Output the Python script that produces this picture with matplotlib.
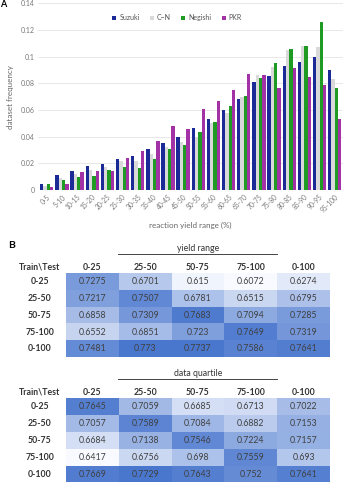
import numpy as np
import matplotlib
matplotlib.use("Agg")
import matplotlib.pyplot as plt
from matplotlib.colors import LinearSegmentedColormap

plt.rcParams["font.family"] = ["Lato", "DejaVu Sans"]

# ---- panel A data: dataset frequency per yield bin ----
yield_bins = ["0-5", "5-10", "10-15", "15-20", "20-25", "25-30", "30-35", "35-40",
              "40-45", "45-50", "50-55", "55-60", "60-65", "65-70", "70-75",
              "75-80", "80-85", "85-90", "90-95", "95-100"]
suzuki  = [0.0044, 0.0109, 0.0145, 0.0179, 0.0195, 0.0230, 0.0257, 0.0305, 0.0350, 0.0400,
           0.0465, 0.0533, 0.0600, 0.0685, 0.0808, 0.0853, 0.0930, 0.0963, 0.0995, 0.0900]
c_n     = [0.0030, 0.0090, 0.0120, 0.0150, 0.0170, 0.0220, 0.0220, 0.0270, 0.0320, 0.0360,
           0.0395, 0.0500, 0.0580, 0.0700, 0.0860, 0.0925, 0.1050, 0.1080, 0.1075, 0.0833]
negishi = [0.0044, 0.0074, 0.0099, 0.0102, 0.0153, 0.0175, 0.0168, 0.0235, 0.0310, 0.0338,
           0.0433, 0.0508, 0.0628, 0.0705, 0.0843, 0.0955, 0.1058, 0.1080, 0.1263, 0.0765]
pkr     = [0.0024, 0.0046, 0.0134, 0.0143, 0.0143, 0.0243, 0.0293, 0.0365, 0.0480, 0.0458,
           0.0610, 0.0666, 0.0748, 0.0868, 0.0865, 0.0763, 0.0918, 0.0850, 0.0788, 0.0530]
series_names = ["Suzuki", "C\u2212N", "Negishi", "PKR"]
y_ticks = [0, 0.02, 0.04, 0.06, 0.08, 0.1, 0.12, 0.14]

# ---- panel B data: train/test accuracy tables ----
ranges = ["0-25", "25-50", "50-75", "75-100", "0-100"]
yield_range_tbl = [
    [0.7275, 0.6701, 0.615, 0.6072, 0.6274],
    [0.7217, 0.7507, 0.6781, 0.6515, 0.6795],
    [0.6858, 0.7309, 0.7683, 0.7094, 0.7285],
    [0.6552, 0.6851, 0.723, 0.7649, 0.7319],
    [0.7481, 0.773, 0.7737, 0.7586, 0.7641],
]
quartile_tbl = [
    [0.7645, 0.7059, 0.6685, 0.6713, 0.7022],
    [0.7057, 0.7589, 0.7084, 0.6882, 0.7153],
    [0.6684, 0.7138, 0.7546, 0.7224, 0.7157],
    [0.6417, 0.6756, 0.698, 0.7559, 0.693],
    [0.7669, 0.7729, 0.7643, 0.752, 0.7641],
]

COLORS = ["#1b2a96", "#d9d9d9", "#1f9b24", "#a232a6"]
W, H = 345, 482

fig = plt.figure(figsize=(W / 100, H / 100), dpi=100)


def px_axes(x0, y0, x1, y1):
    return fig.add_axes([x0 / W, 1 - y1 / H, (x1 - x0) / W, (y1 - y0) / H])


# ---------------- panel A ----------------
ax = px_axes(38, 3.3, 343, 190)
x = np.arange(len(yield_bins))
bw = 0.22
offsets = [-0.33, -0.11, 0.11, 0.33]
for vals, name, col, off in zip([suzuki, c_n, negishi, pkr], series_names, COLORS, offsets):
    ax.bar(x + off, vals, width=bw, color=col, label=name, zorder=2)

ax.set_xlim(-0.58, 19.55)
ax.set_ylim(0, 0.14)
ax.set_yticks(y_ticks)
ax.set_yticklabels([f"{t:g}" for t in y_ticks], fontsize=5, color="#777777")
ax.set_xticks(x)
ax.set_xticklabels(yield_bins, rotation=45, ha="right", rotation_mode="anchor",
                   fontsize=4.8, color="#777777")
ax.tick_params(length=0, pad=2.5)
ax.grid(axis="y", color="#e4e4e4", linewidth=0.6, zorder=0)
for s in ax.spines.values():
    s.set_visible(False)
ax.set_xlabel("reaction yield range (%)", fontsize=5.8, color="#666666", labelpad=6)
ax.set_ylabel("dataset frequency", fontsize=5.8, color="#666666", labelpad=5)
ax.legend(loc="upper center", bbox_to_anchor=(0.456, 0.975), ncol=4, frameon=False,
          fontsize=5, handlelength=0.6, handleheight=0.6, handletextpad=0.4,
          columnspacing=1.5, labelcolor="#555555")

fig.text(0.0, 0.999, "A", fontsize=6.5, fontweight="bold", va="top", ha="left")

# ---------------- panel B ----------------
cmap = LinearSegmentedColormap.from_list("xl", ["#f8faff", "#4a77ce"])


def draw_table(y_top, y_bot, data, title):
    tax = px_axes(66, y_top, 330, y_bot)
    arr = np.array(data)
    tax.imshow(arr, cmap=cmap, aspect="auto", vmin=arr.min(), vmax=arr.max())
    for i in range(arr.shape[0]):
        for j in range(arr.shape[1]):
            tax.text(j, i, f"{arr[i, j]:g}", ha="center", va="center",
                     fontsize=6.3, color="#404040")
    tax.set_xlim(-0.5, 4.5)
    tax.set_ylim(4.5, -0.5)
    tax.axis("off")
    for j, lab in enumerate(ranges):
        tax.text(j, -0.86, lab, ha="center", va="center", fontsize=6.3,
                 fontweight="bold", color="#333333")
    for i, lab in enumerate(ranges):
        tax.text(-1.0, i, lab, ha="center", va="center", fontsize=6.3,
                 fontweight="bold", color="#333333")
    tax.text(-1.0, -0.86, "Train\\Test", ha="center", va="center", fontsize=6.3,
             fontweight="bold", color="#333333")
    tax.text(2.0, -1.95, title, ha="center", va="center", fontsize=6.3,
             color="#333333")
    tax.plot([0.49, 3.5], [-1.63, -1.63], color="#444444", linewidth=0.7,
             clip_on=False)


fig.text(8 / W, 1 - 245 / H, "B", fontsize=7.5, fontweight="bold", va="center",
         ha="left")
draw_table(273.3, 357.3, yield_range_tbl, "yield range")
draw_table(398.2, 483.2, quartile_tbl, "data quartile")

fig.savefig("out.png", dpi=100)
